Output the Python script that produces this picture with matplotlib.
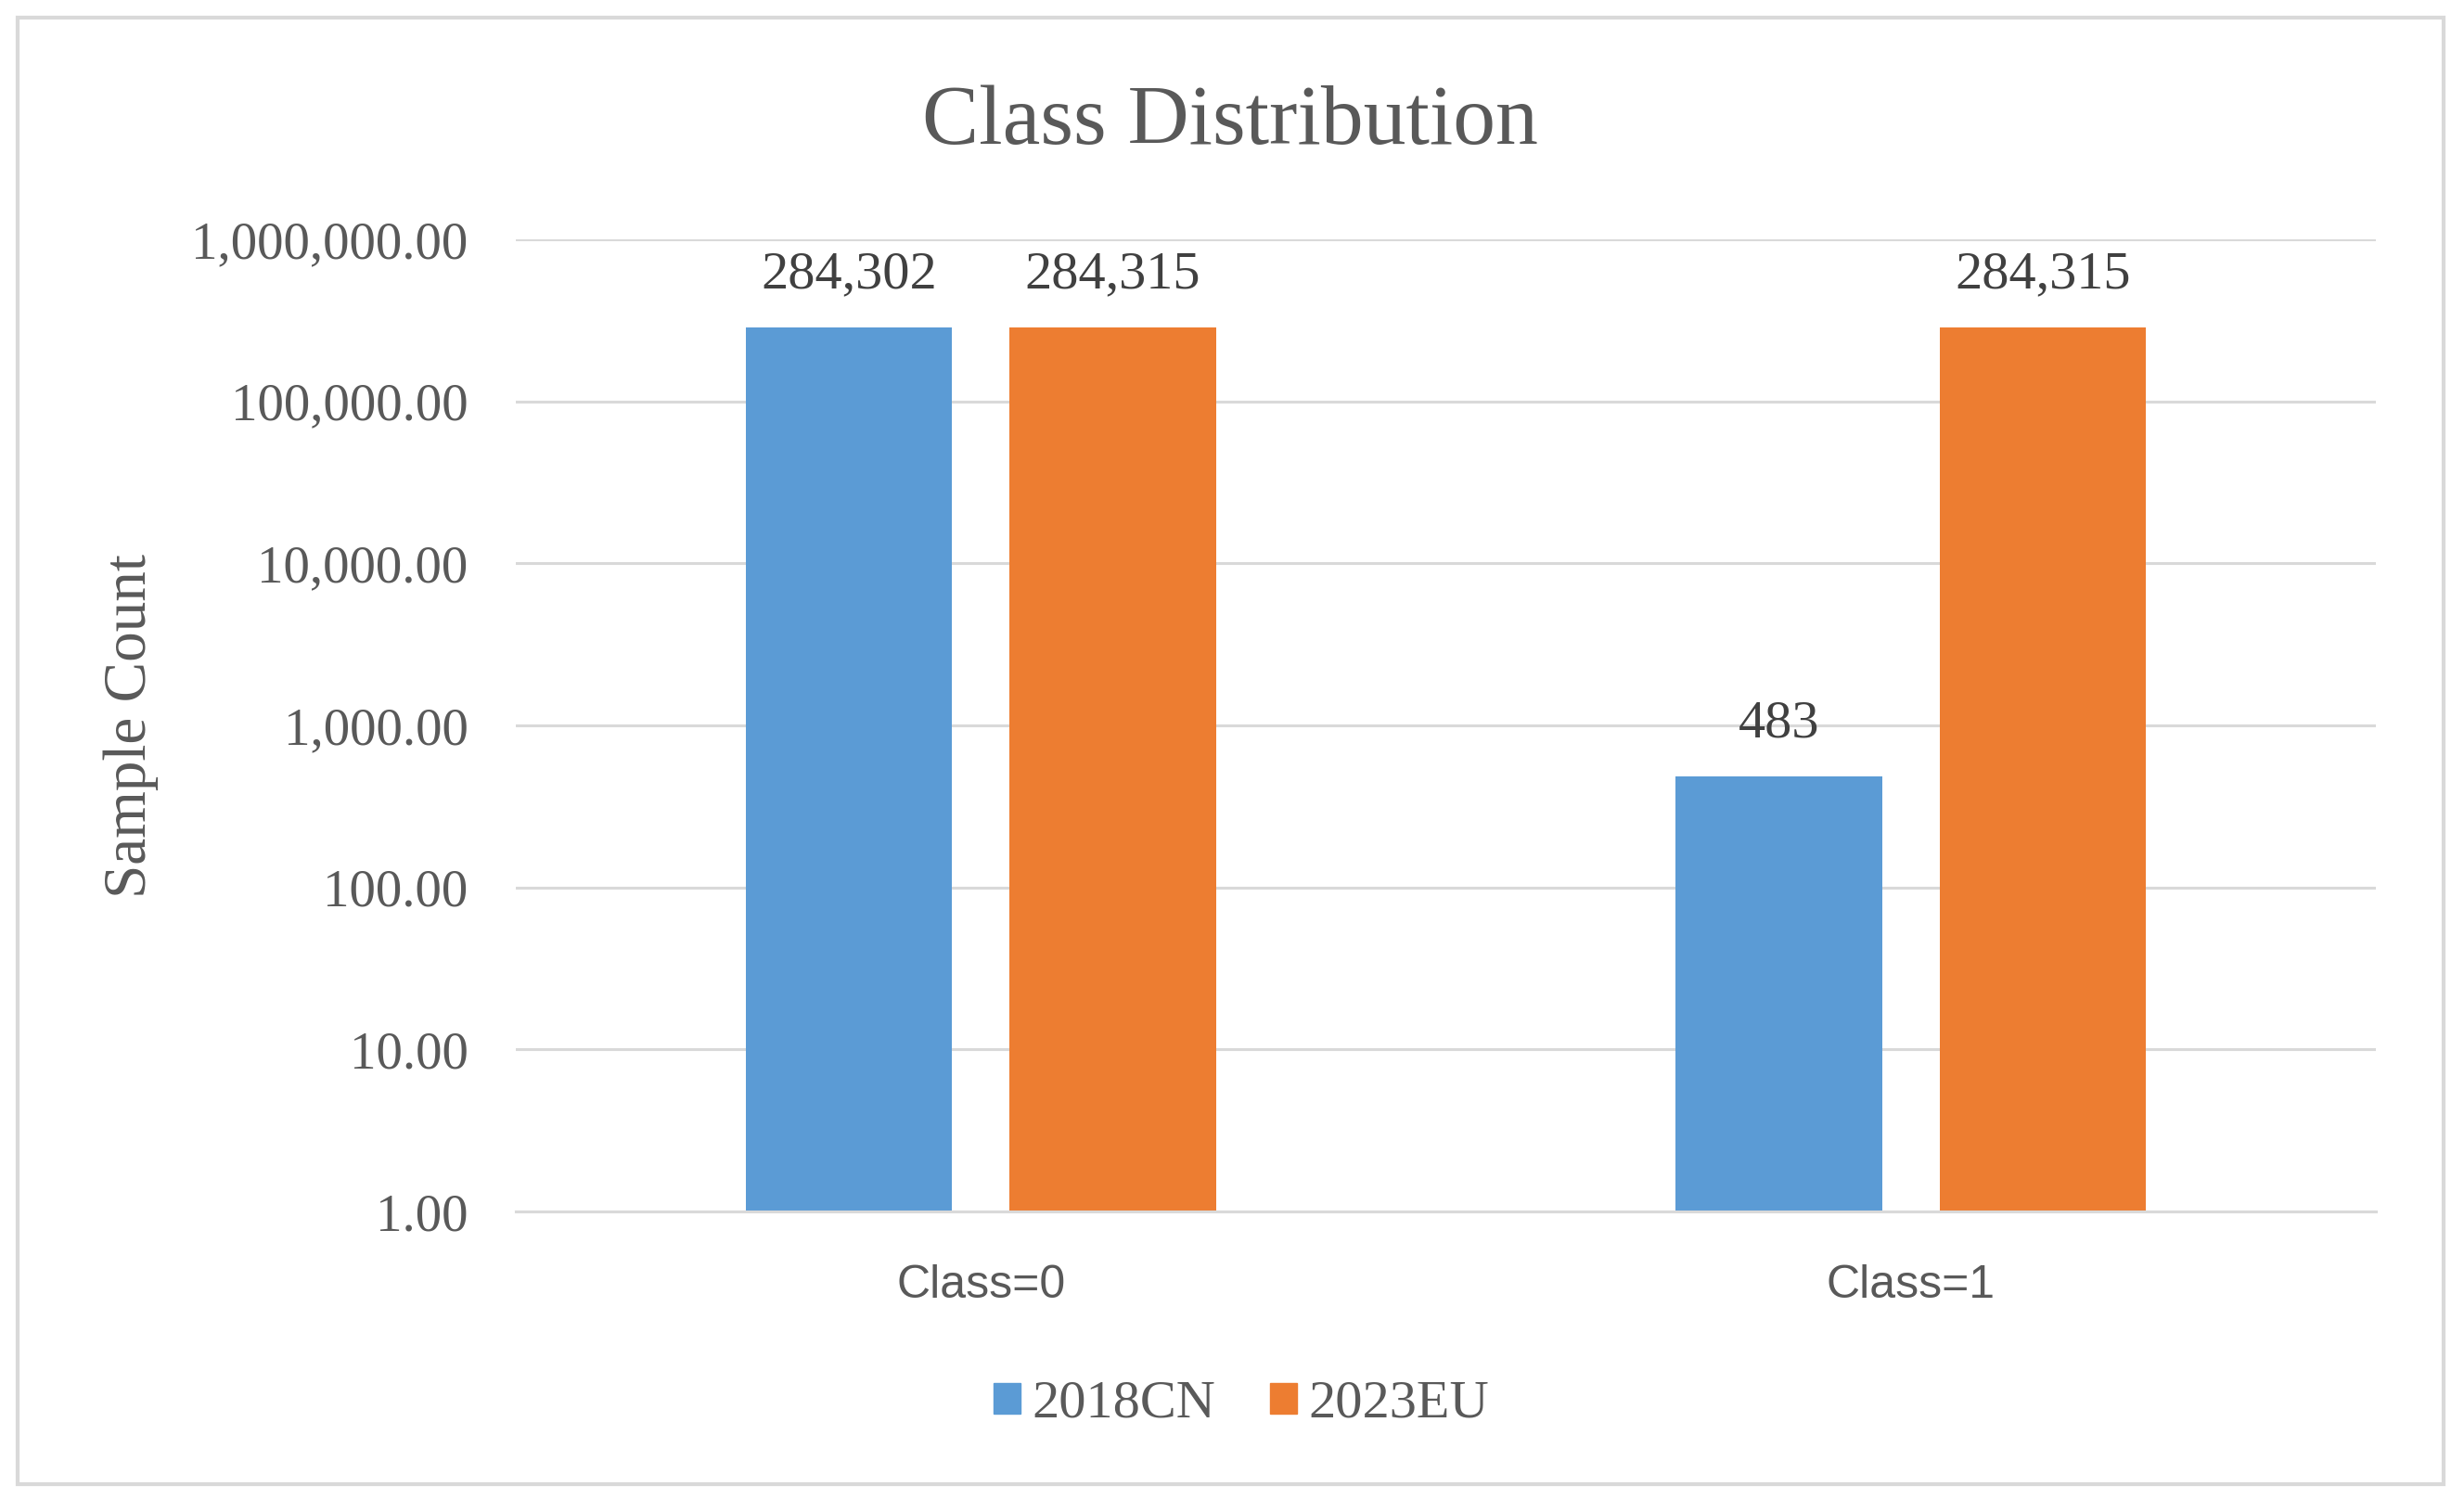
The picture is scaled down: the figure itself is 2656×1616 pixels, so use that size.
import matplotlib
matplotlib.use('Agg')
import matplotlib.pyplot as plt
from matplotlib.patches import Rectangle, Patch
from matplotlib.ticker import FuncFormatter, NullLocator
import numpy as np

categories = ['Class=0', 'Class=1']
cn_2018 = [284302, 483]
eu_2023 = [284315, 284315]
series_names = ['2018CN', '2023EU']

blue = '#5B9BD5'
orange = '#ED7D31'
grid_c = '#D9D9D9'
txt_c = '#595959'
serif = 'Liberation Serif'

fig = plt.figure(figsize=(26.56, 16.16), dpi=100)
ax = fig.add_axes([0.2093, 0.1918, 0.7549, 0.6485])

x = np.arange(len(categories))
w = 0.222
off = 0.142
b1 = ax.bar(x - off, cn_2018, w, color=blue, zorder=3)
b2 = ax.bar(x + off, eu_2023, w, color=orange, zorder=3)

ax.set_yscale('log')
ax.set_ylim(1, 1e6)
ax.set_xlim(-0.5, 1.5)
ax.yaxis.set_minor_locator(NullLocator())
ax.yaxis.set_major_formatter(FuncFormatter(lambda v, p: '{:,.2f}'.format(v)))
ax.grid(axis='y', color=grid_c, lw=2.2, zorder=0)
for s in ['top', 'right', 'left']:
    ax.spines[s].set_visible(False)
ax.spines['bottom'].set_color(grid_c)
ax.spines['bottom'].set_linewidth(2.2)
ax.spines['bottom'].set_zorder(4)

ax.set_xticks(x)
ax.set_xticklabels(categories, family='Liberation Sans', fontsize=36, color=txt_c)
ax.tick_params(axis='x', length=0, pad=41)
ax.tick_params(axis='y', length=0, pad=37, labelsize=41, labelcolor=txt_c)
for lab in ax.get_yticklabels():
    lab.set_family(serif)

# data labels above each bar
for bars in [b1, b2]:
    for r in bars:
        v = r.get_height()
        ax.annotate('{:,}'.format(int(v)), (r.get_x() + r.get_width() / 2, v),
                    xytext=(0, 57), textcoords='offset pixels',
                    ha='center', va='center', fontsize=42, family=serif, color='#404040')

fig.text(0.4993, 1 - 155 / 1616, 'Class Distribution', ha='center', va='baseline',
         fontsize=66, family=serif, color=txt_c)
fig.text(141 / 2656, 1 - 782 / 1616, 'Sample Count', rotation=90, ha='center', va='center',
         fontsize=47, family=serif, color=txt_c)

handles = [Patch(color=blue), Patch(color=orange)]
leg = fig.legend(handles, series_names, loc='center', bbox_to_anchor=(0.5038, 1 - 1514 / 1616),
                 ncol=2, frameon=False, handlelength=0.5, handleheight=0.5,
                 handletextpad=0.22, columnspacing=1.0,
                 prop={'family': serif, 'size': 42})
for t in leg.get_texts():
    t.set_color(txt_c)

fig.patches.append(Rectangle((19 / 2656, 1 - 1600 / 1616), (2634 - 19) / 2656, (1600 - 19) / 1616,
                             transform=fig.transFigure, fill=False, edgecolor=grid_c, lw=3))

fig.savefig('out.png', dpi=100, facecolor='white')
